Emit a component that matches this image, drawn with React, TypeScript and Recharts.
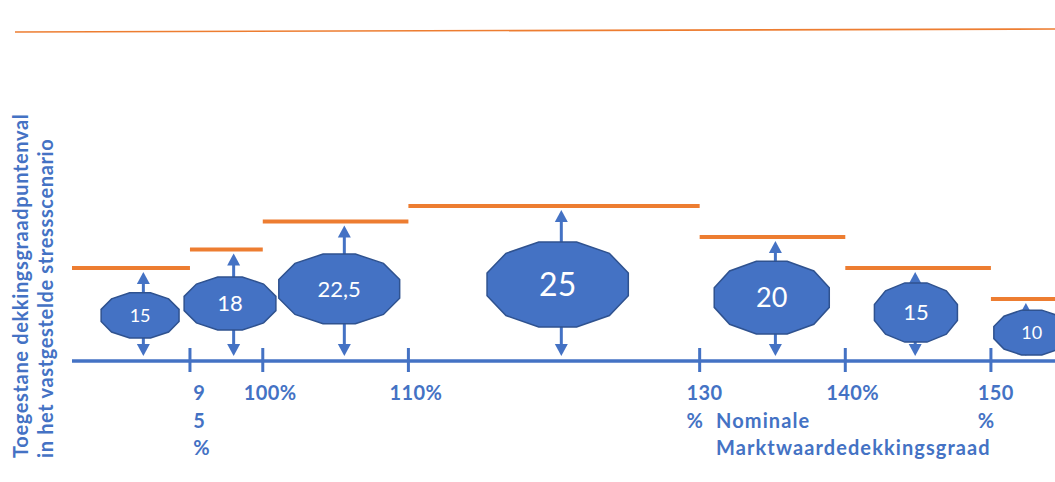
import React from 'react';
import { ComposedChart, XAxis, YAxis, ReferenceLine, ReferenceArea } from 'recharts';

// ---- data ----
const xTicks = [95, 100, 110, 130, 140, 150];
const tickLabels = ['9\n5\n%', '100%', '110%', '130\n%', '140%', '150\n%'];
const xDomain: [number, number] = [86.9, 154.4];
const bandStart = [86.9, 95, 100, 110, 130, 140, 150];
const bandEnd = [95, 100, 110, 130, 140, 150, 154.4];
const drops = [15, 18, 22.5, 25, 20, 15, 10];
const dropLabels = ['15', '18', '22,5', '25', '20', '15', '10'];
const arrowAt = [91.8, 98.0, 105.6, 120.5, 135.2, 144.8, 152.4];
const yTitle = ['Toegestane dekkingsgraadpuntenval', 'in het vastgestelde stressscenario'];
const xTitle = ['Nominale', 'Marktwaardedekkingsgraad'];

// ---- layout (in data units, drawn through the scales) ----
const shapeX1 = [88.9, 94.6, 101.1, 115.4, 131.0, 142.0, 150.2];
const shapeX2 = [94.25, 100.9, 109.4, 125.1, 138.9, 147.7, 155.4];
const shapeY1 = [3.7, 5.0, 6.0, 5.5, 4.35, 3.05, 0.97];
const shapeY2 = [11.0, 13.55, 17.25, 19.2, 16.1, 12.6, 8.2];
const shapeFont = [18, 22, 22, 32, 27, 22, 18];

const BLUE = '#4472C4';
const DARK = '#2F528F';
const ORANGE = '#ED7D31';
const FONT = 'Lato, "Open Sans", sans-serif';

function dodecagonPoints(x: number, y: number, w: number, h: number) {
  const cx = x + w / 2;
  const cy = y + h / 2;
  const c = Math.cos(Math.PI / 12);
  const rx = w / 2 / c;
  const ry = h / 2 / c;
  const pts: string[] = [];
  for (let k = 0; k < 12; k++) {
    const a = ((15 + 30 * k) * Math.PI) / 180;
    pts.push(`${(cx + rx * Math.cos(a)).toFixed(2)},${(cy - ry * Math.sin(a)).toFixed(2)}`);
  }
  return pts.join(' ');
}

const makeShape = (i: number) => (p: any) => {
  const { x, y, width, height } = p;
  const fs = shapeFont[i];
  return (
    <g>
      <polygon points={dodecagonPoints(x, y, width, height)} fill={BLUE} stroke={DARK} strokeWidth={1.5} />
      <text
        x={x + width / 2}
        y={y + height / 2}
        dy={fs * 0.36}
        textAnchor="middle"
        fill="#fff"
        fontFamily={FONT}
        fontSize={fs}
      >
        {dropLabels[i]}
      </text>
    </g>
  );
};

const arrowShape = (p: any) => {
  const x = Number(p.x1);
  const base = Number(p.y1);
  const val = Number(p.y2);
  const bottom = base - 5;
  const top = val + 4;
  const hw = 6.5;
  const hh = 12;
  return (
    <g>
      <line x1={x} x2={x} y1={bottom - hh + 1} y2={top + hh - 1} stroke={BLUE} strokeWidth={3} />
      <polygon points={`${x},${top} ${x - hw},${top + hh} ${x + hw},${top + hh}`} fill={BLUE} />
      <polygon points={`${x},${bottom} ${x - hw},${bottom - hh} ${x + hw},${bottom - hh}`} fill={BLUE} />
    </g>
  );
};

const Tick = (p: any) => {
  const { x, y, index } = p;
  const lines = tickLabels[index].split('\n');
  const w1 = lines[0].length * 11.5;
  const sx = x - w1 / 2 + (lines[0].length === 1 ? 9 : 4);
  return (
    <g>
      <line x1={x} x2={x} y1={y - 13} y2={y + 11} stroke={BLUE} strokeWidth={3} />
      {lines.map((l, k) => (
        <text
          key={k}
          x={sx}
          y={y + 39 + k * 27.5}
          textAnchor="start"
          fill={BLUE}
          fontFamily={FONT}
          fontWeight={700}
          fontSize={20}
          letterSpacing={0.4}
        >
          {l}
        </text>
      ))}
    </g>
  );
};

export default function App() {
  return (
    <div style={{ position: 'absolute', left: 0, top: 0, width: 1055, height: 482, background: '#fff' }}>
      <ComposedChart width={1055} height={482} margin={{ top: 51, right: 0, left: 72, bottom: 0 }}>
        <XAxis
          type="number"
          dataKey="x"
          domain={xDomain}
          allowDataOverflow
          ticks={xTicks}
          interval={0}
          height={121}
          tickSize={0}
          tickMargin={0}
          tickLine={false}
          axisLine={{ stroke: BLUE, strokeWidth: 3.5 }}
          tick={<Tick />}
        />
        <YAxis type="number" domain={[0, 50]} hide allowDataOverflow />
        {drops.map((v, i) => (
          <ReferenceLine
            key={`o${i}`}
            segment={[{ x: bandStart[i], y: v }, { x: bandEnd[i], y: v }]}
            stroke={ORANGE}
            strokeWidth={4}
            ifOverflow="visible"
            zIndex={400}
          />
        ))}
        {drops.map((v, i) => (
          <ReferenceLine
            key={`a${i}`}
            segment={[{ x: arrowAt[i], y: 0 }, { x: arrowAt[i], y: v }]}
            shape={arrowShape}
            ifOverflow="visible"
            zIndex={450}
          />
        ))}
        {drops.map((v, i) => (
          <ReferenceArea
            key={`s${i}`}
            x1={shapeX1[i]}
            x2={shapeX2[i]}
            y1={shapeY1[i]}
            y2={shapeY2[i]}
            shape={makeShape(i)}
            ifOverflow="visible"
            zIndex={500}
          />
        ))}
      </ComposedChart>
      <svg
        width={1055}
        height={482}
        style={{ position: 'absolute', left: 0, top: 0, pointerEvents: 'none' }}
      >
        <line x1={15} y1={32} x2={1055} y2={29} stroke={ORANGE} strokeWidth={1.6} />
        {yTitle.map((t, k) => (
          <text
            key={k}
            transform={`translate(${28 + k * 25},458) rotate(-90)`}
            fill={BLUE}
            fontFamily={FONT}
            fontWeight={700}
            fontSize={20}
            letterSpacing={0.65}
          >
            {t}
          </text>
        ))}
        {xTitle.map((t, k) => (
          <text
            key={k}
            x={716}
            y={428 + k * 27}
            fill={BLUE}
            fontFamily={FONT}
            fontWeight={700}
            fontSize={20}
            letterSpacing={1.1}
          >
            {t}
          </text>
        ))}
      </svg>
    </div>
  );
}
